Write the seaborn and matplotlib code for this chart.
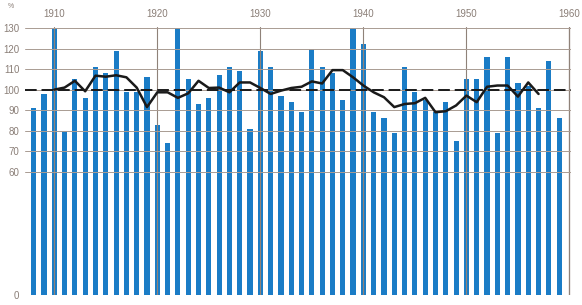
import matplotlib
matplotlib.use("Agg")
import matplotlib.pyplot as plt
import seaborn as sns
import pandas as pd

# ---- data ----
years = list(range(1908, 1960))
values = [91, 98, 130, 80, 105, 96, 111, 108, 119, 99,
          99, 106, 83, 74, 130, 105, 93, 96, 107, 111,
          109, 81, 119, 111, 97, 94, 89, 120, 111, 108,
          95, 130, 122, 89, 86, 79, 111, 99, 95, 89,
          94, 75, 105, 105, 116, 79, 116, 103, 102, 91,
          114, 86]

line_years = list(range(1910, 1958))
line_vals = [100, 101, 104.3, 99.2, 106.8, 106.3, 107, 106, 101, 91.5,
             98.7, 98.7, 96, 98.2, 104.3, 100.8, 101, 98.7, 103.5, 103.5,
             100.8, 97.9, 99.5, 100.8, 101.4, 104, 103, 109.5, 109.5, 106,
             102, 98.7, 96.3, 91.5, 93, 93.4, 96, 89, 89.5, 92.3,
             97.1, 93.9, 101.4, 102, 102, 96.6, 103.5, 97.9]

x_ticks = [1910, 1920, 1930, 1940, 1950, 1960]
y_ticks = [0, 60, 70, 80, 90, 100, 110, 120, 130]
reference_level = 100

BLUE = "#1a7cc6"
GRID = "#a99b92"
TEXT = "#8a7e77"

sns.set_style("white")
plt.rcParams["font.family"] = ["Liberation Sans", "DejaVu Sans"]

fig, ax = plt.subplots(figsize=(5.82, 3.05), dpi=100)
fig.subplots_adjust(left=25 / 582, right=571 / 582, bottom=10 / 305, top=278 / 305)

df = pd.DataFrame({"year": years, "pct": values})
sns.barplot(data=df, x="year", y="pct", native_scale=True, width=0.5,
            color=BLUE, saturation=1, errorbar=None, ax=ax,
            edgecolor="none", linewidth=0, zorder=1)

ax.axhline(reference_level, color="#1a1a1a", lw=1.4, dashes=(6, 2.5), zorder=3)

sns.lineplot(x=line_years, y=line_vals, color="#1a1a1a", lw=1.8, ax=ax, zorder=4)

ax.set_xlim(1907.16, 1960.15)
ax.set_ylim(0, 130.5)
ax.set_xticks(x_ticks)
ax.set_xticklabels([str(t) for t in x_ticks])
ax.set_yticks(y_ticks)
ax.set_yticklabels([str(t) for t in y_ticks])

ax.set_axisbelow(False)
ax.grid(axis="y", color=GRID, lw=0.7, zorder=2)
ax.grid(axis="x", color="#8f8279", lw=0.8, zorder=2)
ax.axvline(x_ticks[-1], color="#a0948c", lw=0.9, zorder=2)
for s in ax.spines.values():
    s.set_visible(False)

ax.tick_params(axis="x", top=False, bottom=False, labeltop=True, labelbottom=False,
               length=0, pad=6, labelsize=7, labelcolor=TEXT)
ax.tick_params(axis="y", left=False, length=0, pad=4, labelsize=7, labelcolor=TEXT)
ax.set_xlabel("")
ax.set_ylabel("")

fig.text(8 / 582, 1 - 6 / 305, "%", fontsize=5, color=TEXT, ha="left", va="center")

fig.savefig("out.png", dpi=100)
